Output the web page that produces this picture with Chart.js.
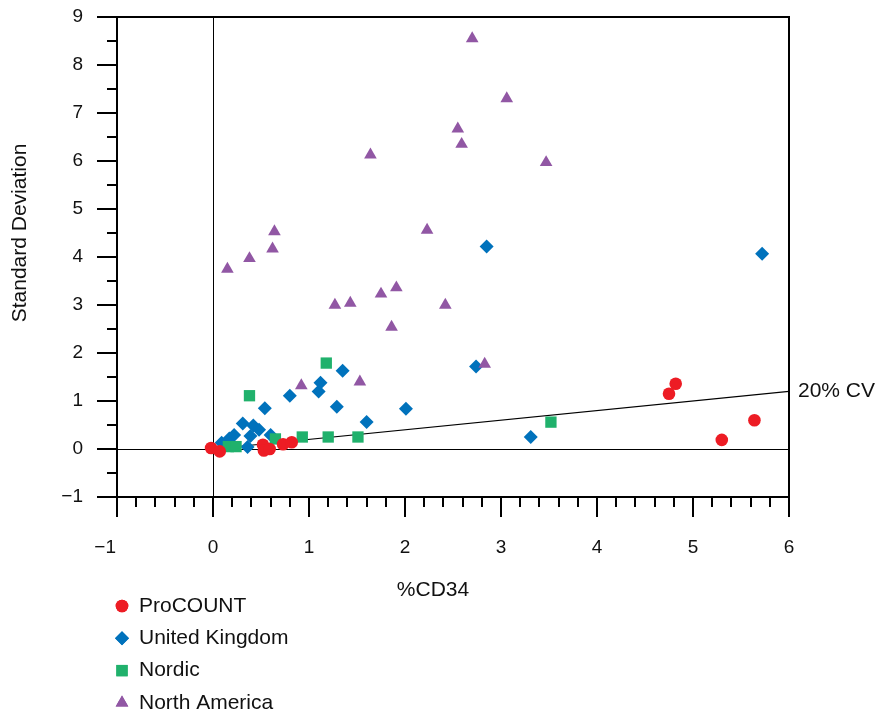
<!DOCTYPE html>
<html>
<head>
<meta charset="utf-8">
<script src="https://cdn.jsdelivr.net/npm/chart.js@4"></script>
<style>
  body { margin: 0; background: #fff; }
</style>
</head>
<body>
<canvas id="chart" width="889" height="715"></canvas>
<script>
// %CD34 vs standard deviation, one list of [x, y] pairs per method
var procount = [
    [-0.02, 0.02], [0.07, -0.05], [0.52, 0.09], [0.53, -0.03], [0.59, 0.0],
    [0.73, 0.10], [0.82, 0.14], [4.75, 1.15], [4.82, 1.36], [5.64, 0.60], [5.30, 0.19]
];
var unitedKingdom = [
    [0.09, 0.13], [0.17, 0.22], [0.22, 0.29], [0.31, 0.53], [0.42, 0.49],
    [0.48, 0.40], [0.39, 0.27], [0.60, 0.29], [0.36, 0.04], [0.54, 0.85],
    [0.80, 1.11], [1.10, 1.20], [1.12, 1.38], [1.35, 1.63], [1.29, 0.88],
    [1.60, 0.56], [2.01, 0.84], [2.74, 1.72], [2.85, 4.22], [3.31, 0.25], [5.72, 4.07]
];
var nordic = [
    [0.16, 0.05], [0.24, 0.05], [0.38, 1.11], [0.65, 0.21], [0.93, 0.25],
    [1.20, 0.25], [1.51, 0.25], [1.18, 1.79], [3.52, 0.56]
];
var northAmerica = [
    [2.70, 8.55], [3.06, 7.30], [2.55, 6.67], [2.59, 6.35], [1.64, 6.13],
    [3.47, 5.97], [0.64, 4.53], [2.23, 4.56], [0.62, 4.17], [0.38, 3.97],
    [0.15, 3.75], [1.91, 3.36], [1.75, 3.23], [1.43, 3.04], [1.27, 3.00],
    [2.42, 3.00], [1.86, 2.54], [2.83, 1.77], [0.92, 1.32], [1.53, 1.40]
];
// 20% coefficient of variation: SD = 0.2 * %CD34
var cvLine = [[0, 0], [6, 1.2]];

var xTitle = "%CD34";
var yTitle = "Standard Deviation";
var cvLabel = "20% CV";

var FONT = "'Liberation Sans', Arial, sans-serif";

function pts(list) {
    return list.map(p => ({ x: p[0], y: p[1] }));
}

var series = [
    { label: "ProCOUNT",       data: procount,      color: "#ed1c24", style: "circle",   radius: 6.3, order: 1 },
    { label: "United Kingdom", data: unitedKingdom, color: "#0072bc", style: "rectRot",  radius: 7,   order: 4 },
    { label: "Nordic",         data: nordic,        color: "#20b16c", style: "rect",     radius: 8,   order: 3 },
    { label: "North America",  data: northAmerica,  color: "#9157a4", style: "triangle", radius: 7.3, order: 2 }
];

var datasets = series.map(s => ({
    type: "scatter",
    label: s.label,
    data: pts(s.data),
    pointStyle: s.style,
    pointRadius: s.radius,
    pointHoverRadius: s.radius,
    backgroundColor: s.color,
    borderColor: s.color,
    borderWidth: 0,
    order: s.order
}));

datasets.push({
    type: "line",
    label: cvLabel,
    data: pts(cvLine),
    borderColor: "#000",
    borderWidth: 1.2,
    pointRadius: 0,
    fill: false,
    order: 10
});

// negative numbers get a real minus; on the x axis the -1 label hangs left of its tick
function yLabel(v) {
    return String(v).replace("-", "\u2212");
}
function xLabel(v) {
    return v < 0 ? "\u2212" + (-v) + "\u2003\u2005" : String(v);
}

// box round the plot plus long/short tick marks on left and bottom
var frame = {
    id: "frame",
    beforeDatasetsDraw(chart) {
        let ctx = chart.ctx;
        let a = chart.chartArea;
        let xs = chart.scales.x, ys = chart.scales.y;
        ctx.save();
        ctx.strokeStyle = "#000";
        ctx.lineWidth = 2;
        ctx.strokeRect(a.left, a.top, a.right - a.left, a.bottom - a.top);
        ctx.beginPath();
        for (let i = 0; i <= 35; i++) {
            let v = -1 + i * 0.2;
            let px = Math.round(xs.getPixelForValue(v));
            let len = i % 5 == 0 ? 20 : 10;
            ctx.moveTo(px, a.bottom);
            ctx.lineTo(px, a.bottom + len);
        }
        for (let i = 0; i <= 20; i++) {
            let v = -1 + i * 0.5;
            let py = Math.round(ys.getPixelForValue(v));
            let len = i % 2 == 0 ? 20 : 10;
            ctx.moveTo(a.left - len, py);
            ctx.lineTo(a.left, py);
        }
        ctx.stroke();
        ctx.restore();
    }
};

// axis titles, CV label and the stacked legend
var labels = {
    id: "labels",
    afterDraw(chart) {
        let ctx = chart.ctx;
        let xs = chart.scales.x, ys = chart.scales.y;
        ctx.save();
        ctx.fillStyle = "#111";
        ctx.font = "21px " + FONT;
        ctx.textBaseline = "middle";

        ctx.textAlign = "center";
        ctx.fillText(xTitle, 433, 590);

        ctx.save();
        ctx.translate(20, (ys.getPixelForValue(0) + ys.getPixelForValue(9)) / 2);
        ctx.rotate(-Math.PI / 2);
        ctx.fillText(yTitle, 0, 0);
        ctx.restore();

        ctx.textAlign = "left";
        ctx.fillText(cvLabel, xs.right + 9, ys.getPixelForValue(1.2));

        series.forEach((s, i) => {
            let y = 606 + i * 32.3;
            ctx.fillStyle = s.color;
            Chart.helpers.drawPoint(ctx, { pointStyle: s.style, radius: s.radius, rotation: 0, borderWidth: 0 }, 122, y);
            ctx.fill();
            ctx.fillStyle = "#111";
            ctx.fillText(s.label, 139, y);
        });
        ctx.restore();
    }
};

function zeroLine(c) {
    return c.tick && c.tick.value === 0 ? "#000" : "rgba(0,0,0,0)";
}

var chart = new Chart(document.getElementById("chart"), {
    data: { datasets: datasets },
    plugins: [frame, labels],
    options: {
        responsive: false,
        animation: false,
        events: [],
        layout: { padding: { left: 0, right: 100, top: 17, bottom: 0 } },
        plugins: {
            legend: { display: false },
            tooltip: { enabled: false }
        },
        scales: {
            x: {
                type: "linear",
                min: -1,
                max: 6,
                afterFit: s => { s.height = 218; s.paddingRight = 0; },
                ticks: {
                    stepSize: 1,
                    padding: 39,
                    color: "#111",
                    font: { family: FONT, size: 19 },
                    callback: v => xLabel(v)
                },
                grid: { color: zeroLine, lineWidth: 1, drawTicks: false },
                border: { display: false }
            },
            y: {
                min: -1,
                max: 9,
                // tick padding would otherwise push the plot top down
                afterFit: s => { s.width = 117; s.paddingTop = 0; s.paddingBottom = 0; },
                ticks: {
                    stepSize: 1,
                    padding: 34,
                    color: "#111",
                    font: { family: FONT, size: 19 },
                    callback: v => yLabel(v)
                },
                grid: { color: zeroLine, lineWidth: 1, drawTicks: false },
                border: { display: false }
            }
        }
    }
});
</script>
</body>
</html>
